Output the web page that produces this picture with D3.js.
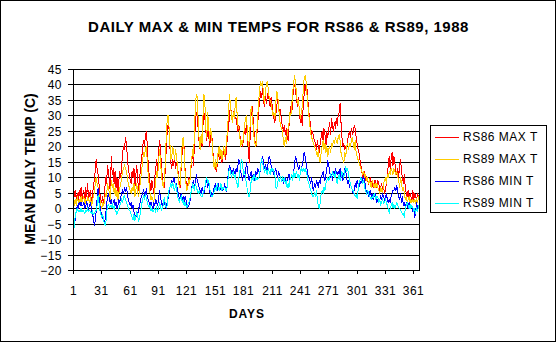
<!DOCTYPE html>
<html><head><meta charset="utf-8">
<script src="https://cdn.jsdelivr.net/npm/d3@7"></script>
<style>html,body{margin:0;padding:0;background:#fff;} svg{display:block;font-family:"Liberation Sans",Arial,sans-serif;}</style>
</head><body><svg id="c" width="557" height="343"></svg>
<script>
const chartTitle = "DAILY MAX & MIN TEMPS FOR RS86 & RS89, 1988";
const yTitle = "MEAN DAILY TEMP (C)";
const xTitle = "DAYS";
const seriesNames = ["RS86 MAX T", "RS89 MAX T", "RS86 MIN T", "RS89 MIN T"];
const seriesColors = ["#ff0000", "#ffcc00", "#0000ff", "#00ffff"];
const xTickDays = [1, 31, 61, 91, 121, 151, 181, 211, 241, 271, 301, 331, 361];
const yTickValues = [-20, -15, -10, -5, 0, 5, 10, 15, 20, 25, 30, 35, 40, 45];

const rs86Max = [
8,4,6,3,5,2,6,4,7,3, 5,6,2,7,4,8,3,5,6,2, 4,7,9,12,16,13,11,8,5,3, 2,4,1,6,10,8,14,12,9,5,
17,11,13,8,12,7,10,5,9,12, 10,14,18,20,19,23,21,17,13,11, 9,8,12,10,13,7,11,14,9,6, 10,13,16,19,22,20,23,25,21,15,
11,8,6,9,7,5,10,13,16,12, 18,22,20,14,10,8,7,12,18,24, 27,26,20,15,13,16,14,16,13,15, 15,10,8,7,14,18,22,20,13,9,
7,8,10,9,12,15,18,14,21,28, 31,30,25,21,19,23,20,27,31,29, 25,22,27,24,20,23,25,21,16,13, 15,12,14,17,19,16,18,15,17,19,
18,16,20,24,26,30,33,31,28,30, 32,29,29,27,25,27,24,21,22,20, 23,26,24,28,22,19,15,25,31,33, 29,25,22,20,24,28,32,35,38,36,
39,35,33,37,34,36,38,35,33,36, 34,31,29,28,30,33,36,34,30,32, 28,27,25,27,24,26,23,22,27,30, 33,31,36,39,40,38,35,33,36,31,
28,30,27,33,37,40,38,39,35,31, 29,26,24,25,23,22,21,19,22,20, 18,21,23,25,22,26,24,20,25,23, 26,28,24,29,27,25,28,26,29,27,
30,31,34,28,23,20,21,19,20,19, 22,24,25,23,26,24,25,27,26,23, 21,19,18,16,14,12,10,11,12,9, 10,9,8,9,10,8,9,7,8,9,
8,7,9,8,6,7,8,6,7,5, 6,8,11,14,17,13,16,18,14,17, 15,12,11,13,10,14,16,12,10,8, 11,7,5,4,6,3,5,4,2,6,
3,5,4,3,5,4];

const rs89Max = [
-1,2,3,1,4,2,3,1,4,2, 3,4,1,3,2,4,3,2,4,1, 2,4,5,8,10,8,7,5,3,1, 0,2,1,3,5,4,8,7,5,3,
9,7,8,5,7,4,6,3,5,7, 8,10,12,13,14,13,12,10,8,7, 6,5,7,6,8,4,6,8,5,4, 7,9,12,15,18,17,19,20,16,11,
8,5,3,4,3,2,6,9,12,10, 15,19,16,11,8,7,9,14,22,28, 30,27,21,16,17,20,18,16,19,17, 14,9,7,8,15,21,23,19,12,8,
6,7,9,8,13,16,19,17,25,34, 37,36,28,22,19,24,21,30,37,34, 26,23,31,27,22,26,24,20,15,13, 16,13,15,18,20,17,19,16,18,20,
17,19,22,26,31,37,34,30,28,31, 29,33,36,31,27,26,23,20,22,21, 24,27,29,30,25,20,22,28,33,31, 27,23,21,20,25,30,35,39,41,40,
41,37,34,38,40,41,39,36,35,34, 32,30,31,29,34,38,37,33,29,27, 26,25,22,20,23,21,24,26,28,31, 30,34,38,41,43,40,37,34,35,32,
29,31,33,38,42,43,41,37,33,30, 27,24,23,22,21,20,19,18,17,19, 16,15,18,20,22,19,21,18,20,17, 19,20,18,21,20,22,21,23,22,21,
23,24,22,18,17,16,15,18,17,20, 21,19,21,20,22,23,21,19,22,18, 17,16,15,14,13,12,11,12,10,11, 9,10,8,9,8,7,9,8,7,8,
7,8,7,6,5,7,6,5,8,9, 10,8,11,10,12,11,13,12,11,13, 12,11,12,10,9,7,10,8,6,7, 5,3,4,2,3,4,2,3,2,3,
2,3,2,3,2,4];

const rs86Min = [
-4,-6,-3,-1,1,0,2,1,2,1, 1,2,0,1,2,1,0,1,2,0, -2,-3,-5.5,-4,-1,3,6.5,4,1,-1, -2,-3,-4,-4.5,-2,1,4,5,3,2,
3,1,2,3,1,2,0,1,3,2, 4,5,6,5,7,6,7,5,3,2, 1,2,0,1,-1,-2,-3,-1,-2,0, 1,3,4,5,6,5,4,6.5,4,3,
2,1,2,1,0,2,1,3,2,1, 3,6,4,2,1,2,3,1,0,2, 3,5,7,8,9,8,10,9,7,8, 6,5,3,4,5,3,4,2,4,3,
1,0.5,1,2,4,7,8,9,7,8, 11,9,8,7,6,5,7,6,5,7, 8,9,7,8,6,4,5,4,6,7, 8,7,6,8,7,6,8,7,6,7,
8,6,5.5,9,12,14,13,12,11,13, 12,11,13,12,14,16,15,12,10,9, 11,10,12,15,13,10,9,11,12,10, 11,9,10,12,11,13,12,11,14,16,
17,15,13,14,13,12,15,17,16,14, 12,13,11,12,13,11,10,12,11,10, 9,10,8,9,10,8,9,10,11,9, 10,11,9,12,15,17,16,14,13,14,
12,13,14,16,18,17,15,13,11,10, 9,8,10,7,6,8,7,9,8,7, 9,8,10,11,12,10,9,11,13,15.5, 14,12,10,11,9,12,11,13,12,11,
12,11,13,10,12,9,11,13,12,10, 8,9,7,8,7,6,5,6,8,7, 9,8,7,9,8,10,9,10.5,9,7, 5,6,4,5,6,4,5,3,4,5,
3,2,3,2,3,4,3,5,4,3, 4,5,3,2,3,2,4,5,6,6, 7,6,7.5,5,4,3,5,2,4,1, 2,0.5,2,1,0,2,1,0,1,-1,
0,-2.7,-1,2,0,1];

const rs89Min = [
-8,-5,-2,-1,0,-1,-0.5,-1,0,-1, -0.5,-1,-1.5,-0.5,-1,0,-1,-0.5,-1,-1.5, -1,-2,-1.5,-1,-0.5,1,4.3,2,-0.5,-2, -3,-2,-4,-5,-5.5,-2,1,1.5,0.5,1,
0.5,1.5,0,1,-0.5,-1,-2,-1,0,1, 2,3,2,4,4.3,3,2,1.5,0,-0.5, -1,-2,-3,-3.5,-2,-3.8,-2.5,-1,-3,-3.8, -3,-1,1,3,4,3,4.5,3.5,2,1,
0.5,1,-0.5,0,-1,-0.5,0,-1,0.5,-0.5, 0,2,1,-0.5,0,1,3.5,2,0.5,1, 4,6,7,8,7,8.5,7,6,8,7, 4,3,2,3.5,4,2,3,1,2,1,
0.5,1.5,2,3,5,6,8,7,6,8, 7,6,5,6,5,4,3.8,5,6,7, 9,10,8,9,7,5,4,3.8,4.5,6, 7,6,8,7,6,7,8,6,7,6.5,
7,6,6,8,11,13,12,10,11,12, 10,11,9,8,7,10,12,15,16,14, 11,12,10,8,6,4,3.8,6,9,10, 9,11,10,9,10,9.5,10,11,14.5,16,
15,13,12,13,12,11,13,12,11,13, 12,13,12,11,7,6.5,8,10,9,10, 9,10,9,10,8,9,7,8,7,9, 10,11,9,12,10,11,12,10,11,9,
12,13,12,13,12,13,12,11,9,8, 7,6,5,4,3.8,5,4,6,3,1, 0,2,5,6,5,7,6,8,9,10, 9,10,11,10,12,11,10,12,9,8,
10,11,9,10,12,11,10,12,13.5,12, 13,11,9,8,7,6,6,5,4,4.5, 3.2,6,8,9,10,9,8,9,7,6, 5,6,5.5,4,3.5,3,4,3.5,5,4,
3,4,3.5,2,3,1.5,2,3,1.6,2, 3,2,1,0,-1.6,0,1,2,0.5,1.5, 0,1,2,1,0.5,0,-0.5,-1,-2,-1.5, -2.7,0,1,2,1,0,1.5,0,1,0.5,
-1,0,-1.5,0.5,-1,1];

const seriesValues = [rs86Max, rs89Max, rs86Min, rs89Min];

const svg = d3.select("#c");
const FONT = '"Liberation Sans", Arial, sans-serif';
svg.append("rect").attr("x", 0.5).attr("y", 0.5).attr("width", 555).attr("height", 341)
  .attr("fill", "#fff").attr("stroke", "#000");

const L = 73, R = 419, T = 69, B = 270;
const x = d3.scaleLinear().domain([1, 367]).range([L, R]);
const xr = x.copy().interpolate(d3.interpolateRound);
const y = d3.scaleLinear().domain([-20, 45]).rangeRound([B, T]);

// gridlines
svg.append("g").selectAll("line").data(yTickValues).join("line")
  .attr("x1", L).attr("x2", R + 1)
  .attr("y1", d => y(d) + 0.5).attr("y2", d => y(d) + 0.5)
  .attr("stroke", "#000").attr("stroke-width", 1);

// plot border
svg.append("rect").attr("x", L + 0.5).attr("y", T + 0.5).attr("width", R - L).attr("height", B - T)
  .attr("fill", "none").attr("stroke", "#000");

// series
const line = d3.line().x((d, i) => x(i + 1.5)).y(d => y(d) + 0.5);
svg.append("g").selectAll("path").data(seriesValues).join("path")
  .attr("d", d => line(d))
  .attr("fill", "none")
  .attr("stroke", (d, i) => seriesColors[i])
  .attr("stroke-width", 1)
  .attr("shape-rendering", "crispEdges");

// y axis
const yAxis = svg.append("g").attr("transform", `translate(${L},0)`)
  .call(d3.axisLeft(y).tickValues(yTickValues).tickSize(5).tickSizeOuter(0).tickPadding(6));
yAxis.attr("font-family", FONT).attr("font-size", 12);
yAxis.selectAll("text").attr("dy", "0.36em").attr("fill", "#000").style("letter-spacing", "0.5px");
yAxis.selectAll("line,path").attr("stroke", "#000");

// x axis
const xAxis = svg.append("g").attr("transform", `translate(0,${B})`)
  .call(d3.axisBottom(xr).tickValues(xTickDays).tickSize(4).tickSizeOuter(0).tickPadding(12).tickFormat(d3.format("d")));
xAxis.attr("font-family", FONT).attr("font-size", 12);
xAxis.selectAll("text").attr("fill", "#000").style("letter-spacing", "0.5px");
xAxis.selectAll("line,path").attr("stroke", "#000");

// titles
svg.append("text").attr("x", 278.5).attr("y", 32).attr("text-anchor", "middle")
  .attr("font-family", FONT).attr("font-size", 15).attr("font-weight", "bold")
  .style("letter-spacing", "0.5px").text(chartTitle);
svg.append("text").attr("transform", "translate(35,169) rotate(-90)").attr("text-anchor", "middle")
  .attr("font-family", FONT).attr("font-size", 14).attr("font-weight", "bold").text(yTitle);
svg.append("text").attr("x", 247).attr("y", 318).attr("text-anchor", "middle")
  .attr("font-family", FONT).attr("font-size", 12).attr("font-weight", "bold")
  .style("letter-spacing", "1px").text(xTitle);

// legend
const lg = svg.append("g");
lg.append("rect").attr("x", 430.5).attr("y", 125.5).attr("width", 116).attr("height", 87)
  .attr("fill", "#fff").attr("stroke", "#000");
const items = lg.selectAll("g.it").data(seriesNames).join("g").attr("class", "it")
  .attr("transform", (d, i) => `translate(0,${137 + i * 22})`);
items.append("line").attr("x1", 435).attr("x2", 459).attr("y1", 0.5).attr("y2", 0.5)
  .attr("stroke", (d, i) => seriesColors[i]).attr("stroke-width", 1);
items.append("text").attr("x", 463).attr("y", 0).attr("dy", "0.36em")
  .attr("font-family", FONT).attr("font-size", 12).style("letter-spacing", "0.5px")
  .attr("fill", "#000").text(d => d);
</script>
</body></html>
